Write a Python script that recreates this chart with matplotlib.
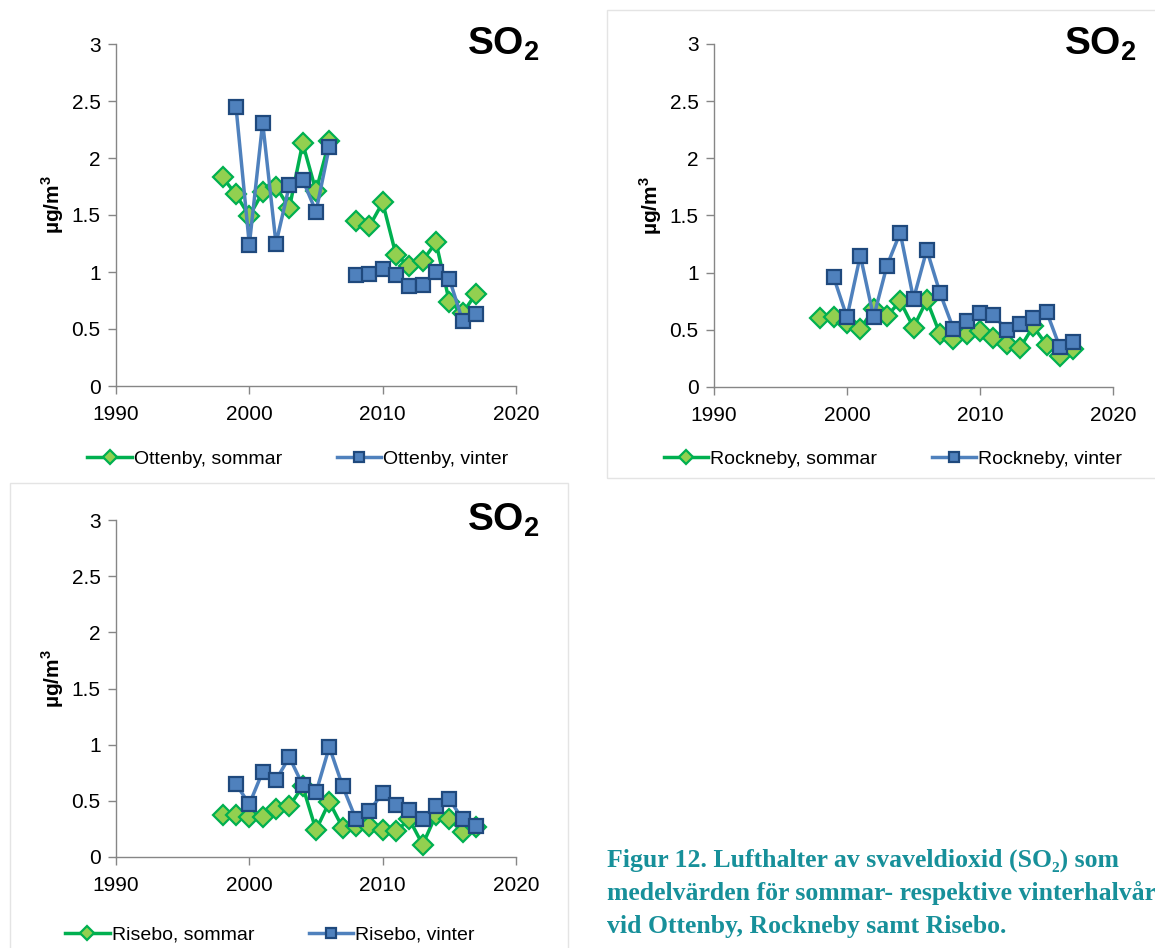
import numpy as np
import matplotlib
matplotlib.use("Agg")
import matplotlib.pyplot as plt
from matplotlib.patches import Rectangle
from matplotlib.ticker import FuncFormatter

plt.rcParams['font.family'] = ['Liberation Sans', 'DejaVu Sans']
plt.rcParams['mathtext.fontset'] = 'custom'
plt.rcParams['mathtext.rm'] = 'Liberation Sans:bold'
plt.rcParams['mathtext.bf'] = 'Liberation Sans:bold'

# === data ===
nan = np.nan
years = list(range(1998, 2018))

ottenby_sommar = [1.83, 1.68, 1.49, 1.70, 1.75, 1.56, 2.13, 1.71, 2.15, nan,
                  1.45, 1.40, 1.61, 1.15, 1.05, 1.10, 1.26, 0.74, 0.64, 0.81]
ottenby_vinter = [nan, 2.45, 1.24, 2.31, 1.25, 1.76, 1.81, 1.53, 2.10, nan,
                  0.97, 0.98, 1.03, 0.97, 0.88, 0.89, 1.00, 0.94, 0.57, 0.63]

rockneby_sommar = [0.60, 0.61, 0.56, 0.51, 0.68, 0.62, 0.75, 0.52, 0.76, 0.46,
                   0.42, 0.46, 0.49, 0.43, 0.38, 0.34, 0.53, 0.37, 0.27, 0.33]
rockneby_vinter = [nan, 0.96, 0.61, 1.15, 0.61, 1.06, 1.35, 0.77, 1.20, 0.82,
                   0.51, 0.58, 0.65, 0.63, 0.50, 0.55, 0.60, 0.66, 0.35, 0.39]

risebo_sommar = [0.37, 0.37, 0.355, 0.36, 0.43, 0.45, 0.63, 0.24, 0.49, 0.26,
                 0.28, 0.28, 0.24, 0.23, 0.335, 0.11, 0.375, 0.335, 0.225, 0.27]
risebo_vinter = [nan, 0.65, 0.47, 0.76, 0.685, 0.89, 0.64, 0.575, 0.98, 0.63,
                 0.335, 0.41, 0.57, 0.46, 0.42, 0.34, 0.45, 0.515, 0.335, 0.28]

caption = ["Figur 12. Lufthalter av svaveldioxid (SO\u2082) som",
           "medelvärden för sommar- respektive vinterhalvår",
           "vid Ottenby, Rockneby samt Risebo."]

W, H = 1155, 948
fig = plt.figure(figsize=(W / 100, H / 100), dpi=100)

GREY = '#868686'


def fx(px):
    return px / W


def fy(py):
    return 1 - py / H


# === ramar runt panel 2 och 3 ===
for x0, y0, x1, y1 in [(607, 10, 1160, 478), (10, 483, 568, 952)]:
    fig.patches.append(Rectangle((fx(x0), fy(y1)), fx(x1 - x0), (y1 - y0) / H,
                                 transform=fig.transFigure, fill=False,
                                 edgecolor='#e4e4e4', linewidth=1))


def draw_panel(left, top, right, bottom, station, sommar, vinter, leg_x, leg_y, ylab_x):
    ax = fig.add_axes([fx(left), fy(bottom), fx(right - left), (bottom - top) / H])
    ax.plot(years, sommar, color='#00b050', linewidth=2.5, marker='D', markersize=10,
            markerfacecolor='#92d050', markeredgecolor='#00b050', markeredgewidth=1.6,
            label=f"{station}, sommar")
    ax.plot(years, vinter, color='#4f81bd', linewidth=2.5, marker='s', markersize=10,
            markerfacecolor='#4f81bd', markeredgecolor='#1f497d', markeredgewidth=1.6,
            label=f"{station}, vinter")

    ax.set_xlim(1990, 2020)
    ax.set_ylim(0, 3)
    ax.set_xticks([1990, 2000, 2010, 2020])
    ax.set_yticks(np.arange(0, 3.01, 0.5))
    ax.yaxis.set_major_formatter(FuncFormatter(lambda v, p: f"{v:g}"))
    for s in ['top', 'right']:
        ax.spines[s].set_visible(False)
    for s in ['left', 'bottom']:
        ax.spines[s].set_color(GREY)
        ax.spines[s].set_linewidth(1)
    ax.tick_params(colors=GREY, labelcolor='black', labelsize=15, length=6, width=1)
    ax.tick_params(axis='x', pad=8)
    ax.tick_params(axis='y', pad=5)
    for ln in ax.lines:
        ln.set_clip_on(False)

    fig.text(fx(ylab_x), fy((top + bottom) / 2 - 10), "µg/m$^3$", rotation=90, fontsize=15,
             fontweight='bold', ha='center', va='center')
    ax.text(1.06, 1.0, r"$\mathbf{SO_2}$", transform=ax.transAxes, fontsize=28,
            ha='right', va='center')

    fig.legend(handles=ax.lines, loc='center', bbox_to_anchor=(fx(leg_x), fy(leg_y)),
               ncol=2, frameon=False, fontsize=14, handlelength=2.3, handletextpad=0.1,
               columnspacing=2.8, markerscale=0.7)
    return ax


draw_panel(116, 44, 516, 386, "Ottenby", ottenby_sommar, ottenby_vinter, 298, 459, 53)
draw_panel(714, 44, 1113, 387, "Rockneby", rockneby_sommar, rockneby_vinter, 893, 459, 651)
draw_panel(116, 520, 516, 857, "Risebo", risebo_sommar, risebo_vinter, 270, 935, 53)

# === figurtext ===
for i, line in enumerate(caption):
    fig.text(fx(607), fy(860 + i * 33), line, fontsize=18.5, fontweight='bold',
             color='#17909a', family=['Liberation Serif', 'DejaVu Serif'],
             ha='left', va='center')

fig.savefig("out.png", dpi=100)
